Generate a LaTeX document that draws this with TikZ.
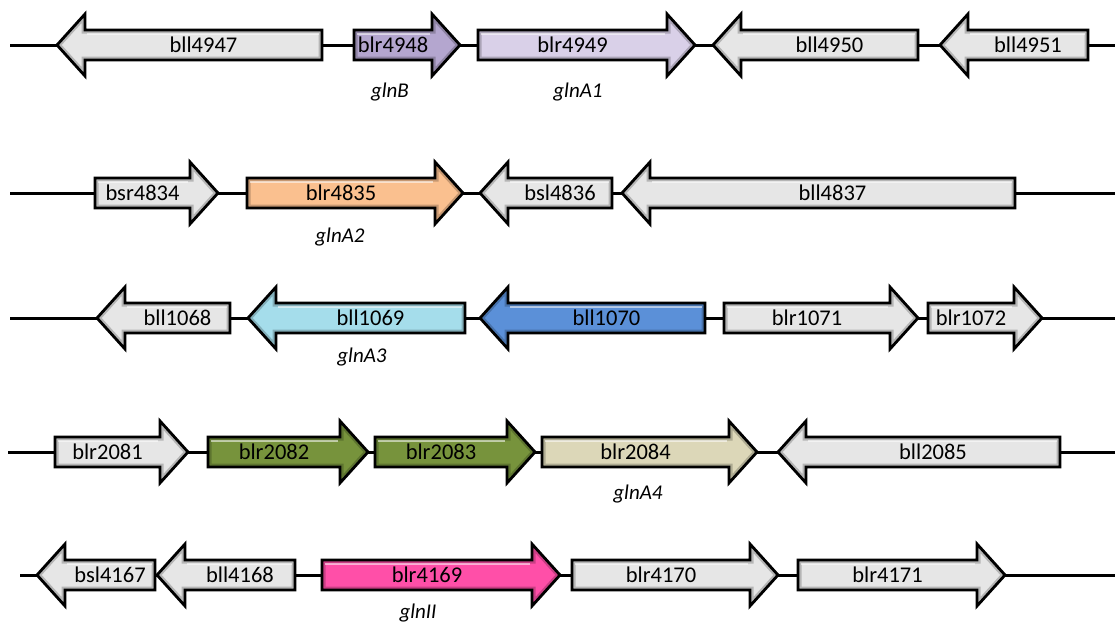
\documentclass[tikz,border=0pt]{standalone}
\usepackage{fontspec}
\setmainfont{Carlito}
\definecolor{cgray}{HTML}{E6E6E6}
\definecolor{cpurA}{HTML}{B4A6CF}
\definecolor{cpurB}{HTML}{D9D0E8}
\definecolor{corange}{HTML}{FAC08F}
\definecolor{cltblue}{HTML}{A5DDEB}
\definecolor{cblue}{HTML}{5B90D8}
\definecolor{cgreen}{HTML}{77933C}
\definecolor{ctan}{HTML}{DCD7B8}
\definecolor{cpink}{HTML}{FF4FA8}
\tikzset{
  backbone/.style={line width=3pt, black},
  genebord/.style={line width=2.8pt, black, line join=miter},
  genetext/.style={font=\fontsize{22.5}{24}\selectfont, inner sep=0pt},
  genelabel/.style={font=\fontsize{21}{23}\selectfont\itshape, inner sep=0pt},
}
% right-pointing gene: name, x left, x tip, y, colour, text
\newcommand\generight[6]{%
  \pgfmathsetmacro\gL{#3-#2}\pgfmathsetmacro\gB{#3-#2-28}%
  \begin{scope}[shift={(#2,#4)}]
    \fill[#5] (0,-15) -- (\gB,-15) -- (\gB,-31) -- (\gL,0) -- (\gB,31) -- (\gB,15) -- (0,15) -- cycle;
    \begin{scope}
      \clip (0,-15) -- (\gB,-15) -- (\gB,-31) -- (\gL,0) -- (\gB,31) -- (\gB,15) -- (0,15) -- cycle;
      \draw[#5!65!black, line width=7pt, opacity=.6] (0,-15) -- (\gB,-15) -- (\gB,-31) -- (\gL,0) -- (\gB,31) -- (\gB,15) -- (0,15) -- cycle;
      \draw[white, line width=2pt, opacity=.55] (3,-11.5) -- (\gB-2,-11.5);
    \end{scope}
    \draw[genebord] (0,-15) -- (\gB,-15) -- (\gB,-31) -- (\gL,0) -- (\gB,31) -- (\gB,15) -- (0,15) -- cycle;
    \node[genetext] (#1) at (\gB/2,0) {#6};
  \end{scope}}
% left-pointing gene: name, x tip, x right, y, colour, text
\newcommand\geneleft[6]{%
  \pgfmathsetmacro\gL{#3-#2}%
  \begin{scope}[shift={(#2,#4)}]
    \fill[#5] (0,0) -- (28,-31) -- (28,-15) -- (\gL,-15) -- (\gL,15) -- (28,15) -- (28,31) -- cycle;
    \begin{scope}
      \clip (0,0) -- (28,-31) -- (28,-15) -- (\gL,-15) -- (\gL,15) -- (28,15) -- (28,31) -- cycle;
      \draw[#5!65!black, line width=7pt, opacity=.6] (0,0) -- (28,-31) -- (28,-15) -- (\gL,-15) -- (\gL,15) -- (28,15) -- (28,31) -- cycle;
      \draw[white, line width=2pt, opacity=.55] (30,-11.5) -- (\gL-3,-11.5);
    \end{scope}
    \draw[genebord] (0,0) -- (28,-31) -- (28,-15) -- (\gL,-15) -- (\gL,15) -- (28,15) -- (28,31) -- cycle;
    \node[genetext] (#1) at ({(\gL+28)/2},0) {#6};
  \end{scope}}
\begin{document}
\begin{tikzpicture}[x=1pt, y=-1pt]
\useasboundingbox (0,0) rectangle (1115,622);
% backbones
\coordinate (r1s) at (10,45);  \coordinate (r1e) at (1115,45);
\coordinate (r2s) at (10,193); \coordinate (r2e) at (1115,193);
\coordinate (r3s) at (10,318); \coordinate (r3e) at (1115,318);
\coordinate (r4s) at (8,452);  \coordinate (r4e) at (1115,452);
\coordinate (r5s) at (20,575); \coordinate (r5e) at (1115,575);
\draw[backbone] (r1s) -- (r1e);
\draw[backbone] (r2s) -- (r2e);
\draw[backbone] (r3s) -- (r3e);
\draw[backbone] (r4s) -- (r4e);
\draw[backbone] (r5s) -- (r5e);
% row 1
\geneleft{g4947}{57}{322}{45}{cgray}{bll4947}
\generight{g4948}{354}{460}{45}{cpurA}{blr4948}
\generight{g4949}{478}{695}{45}{cpurB}{blr4949}
\geneleft{g4950}{713}{918}{45}{cgray}{bll4950}
\geneleft{g4951}{940}{1088}{45}{cgray}{bll4951}
\node[genelabel] (lglnB) at (390,92) {glnB};
\node[genelabel] (lglnA1) at (578,92) {glnA1};
% row 2
\generight{g4834}{95}{218}{193}{cgray}{bsr4834}
\generight{g4835}{247}{463}{193}{corange}{blr4835}
\geneleft{g4836}{480}{612}{193}{cgray}{bsl4836}
\geneleft{g4837}{622}{1015}{193}{cgray}{bll4837}
\node[genelabel] (lglnA2) at (340,237) {glnA2};
% row 3
\geneleft{g1068}{97}{230}{318}{cgray}{bll1068}
\geneleft{g1069}{248}{465}{318}{cltblue}{bll1069}
\geneleft{g1070}{480}{705}{318}{cblue}{bll1070}
\generight{g1071}{724}{918}{318}{cgray}{blr1071}
\generight{g1072}{928}{1042}{318}{cgray}{blr1072}
\node[genelabel] (lglnA3) at (362,357) {glnA3};
% row 4
\generight{g2081}{55}{188}{452}{cgray}{blr2081}
\generight{g2082}{208}{368}{452}{cgreen}{blr2082}
\generight{g2083}{375}{535}{452}{cgreen}{blr2083}
\generight{g2084}{542}{757}{452}{ctan}{blr2084}
\geneleft{g2085}{778}{1060}{452}{cgray}{bll2085}
\node[genelabel] (lglnA4) at (638,494) {glnA4};
% row 5
\geneleft{g4167}{37}{155}{575}{cgray}{bsl4167}
\geneleft{g4168}{157}{295}{575}{cgray}{bll4168}
\generight{g4169}{322}{560}{575}{cpink}{blr4169}
\generight{g4170}{572}{778}{575}{cgray}{blr4170}
\generight{g4171}{798}{1005}{575}{cgray}{blr4171}
\node[genelabel] (lglnII) at (418,613) {glnII};
\end{tikzpicture}
\end{document}
